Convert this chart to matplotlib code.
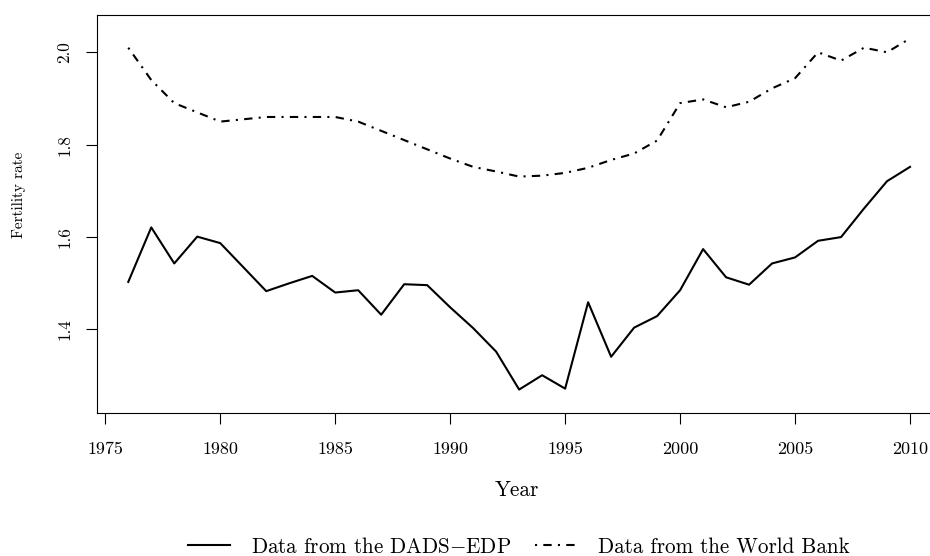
import matplotlib
matplotlib.use("Agg")
import matplotlib.pyplot as plt

plt.rcParams['font.family'] = ['cmr10', 'DejaVu Serif']
plt.rcParams['mathtext.fontset'] = 'cm'
plt.rcParams['axes.formatter.use_mathtext'] = True
plt.rcParams['axes.unicode_minus'] = False

years = list(range(1976, 2011))
dads_edp = [1.503, 1.621, 1.543, 1.601, 1.587, 1.535, 1.483, 1.500, 1.516, 1.480,
            1.485, 1.432, 1.498, 1.496, 1.448, 1.403, 1.352, 1.270, 1.301, 1.272,
            1.459, 1.341, 1.404, 1.429, 1.485, 1.574, 1.513, 1.497, 1.543, 1.556,
            1.592, 1.600, 1.662, 1.721, 1.752]
world_bank = [2.01, 1.94, 1.89, 1.87, 1.85, 1.855, 1.86, 1.86, 1.86, 1.86,
              1.85, 1.83, 1.81, 1.79, 1.77, 1.752, 1.742, 1.731, 1.733, 1.739,
              1.75, 1.767, 1.781, 1.809, 1.89, 1.898, 1.881, 1.893, 1.922, 1.944,
              2.00, 1.982, 2.01, 2.00, 2.03]
xticks = [1975, 1980, 1985, 1990, 1995, 2000, 2005, 2010]
xtick_labels = ["1975", "1980", "1985", "1990", "1995", "2000", "2005", "2010"]
yticks = [1.4, 1.6, 1.8, 2.0]
ytick_labels = ["1.4", "1.6", "1.8", "2.0"]
label_dads = "Data from the DADS$-$EDP"
label_wb = "Data from the World Bank"

W, H = 930, 556
fig = plt.figure(figsize=(W / 100, H / 100), dpi=100)
left, right, top, bottom = 97, 941.3, 14.7, 412.7
ax = fig.add_axes([left / W, 1 - bottom / H, (right - left) / W, (bottom - top) / H])

ax.plot(years, dads_edp, color='black', lw=1.5, linestyle='-', label=label_dads)
ax.plot(years, world_bank, color='black', lw=1.5, linestyle=(0, (1, 3, 4, 3)),
        dash_capstyle='butt', label=label_wb)

ax.set_xlim(1974.64, 2011.36)
ax.set_ylim(1.2199, 2.0814)
ax.set_xticks(xticks)
ax.set_xticklabels(xtick_labels)
ax.set_yticks(yticks)
ax.set_yticklabels(ytick_labels, rotation=90, va='center')

for s in ax.spines.values():
    s.set_linewidth(0.8)
ax.tick_params(axis='both', direction='out', length=8, width=0.8)
ax.tick_params(axis='x', pad=13, labelsize=13)
ax.tick_params(axis='y', pad=10, labelsize=12.3)

ax.set_xlabel("Year", fontsize=15.3)
ax.xaxis.set_label_coords((517 - left) / (right - left), -(490.7 - bottom) / (bottom - top))
ax.xaxis.label.set_va('center')
ax.set_ylabel("Fertility rate", fontsize=11)
ax.yaxis.set_label_coords((19.5 - left) / (right - left), (bottom - 194.5) / (bottom - top))
ax.yaxis.label.set_va('center')

handles, labels = ax.get_legend_handles_labels()
fig.legend(handles, labels, loc='center', ncol=2, frameon=False, fontsize=15.2,
           bbox_to_anchor=(519 / W, 1 - 546.7 / H), handlelength=2.0,
           handletextpad=1.0, columnspacing=1.1, borderpad=0, borderaxespad=0)

fig.savefig("out.png", dpi=100)
